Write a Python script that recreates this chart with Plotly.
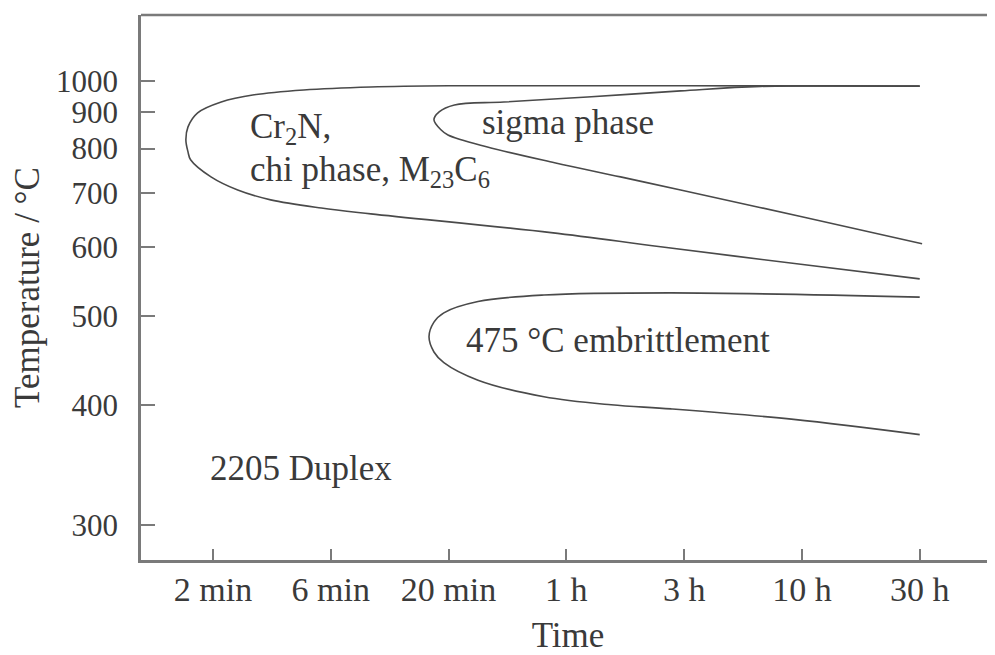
import plotly.graph_objects as go

# Time axis: equally spaced tick positions (index 0..6)
time_labels = ["2 min", "6 min", "20 min", "1 h", "3 h", "10 h", "30 h"]
time_pos = [0, 1, 2, 3, 4, 5, 6]

temp_ticks = [300, 400, 500, 600, 700, 800, 900, 1000]

# C-curve 1: Cr2N, chi phase, M23C6 (time position, temperature °C)
cr2n_t = [6.0, 4.0, 2.0, 1.34, 0.77, 0.35, 0.07, -0.13, -0.212, -0.23, -0.212, -0.19,
          -0.017, 0.21, 0.49, 0.92, 1.34, 2.87, 3.80, 4.99, 6.0]
cr2n_T = [982, 983, 983, 979, 969, 953, 930, 897, 857, 822, 792, 773,
          734, 706, 686, 670, 659, 625, 601, 573, 551]

# C-curve 2: sigma phase
sigma_t = [6.0, 4.65, 3.97, 3.18, 2.47, 2.05, 1.92, 1.876, 1.935, 1.995, 2.33, 2.90, 3.46, 3.97, 4.99, 6.02]
sigma_T = [982, 981, 966, 946, 930, 921, 900, 877, 849, 835, 804, 766, 734, 706, 654, 606]

# C-curve 3: 475 °C embrittlement
emb_t = [6.0, 3.89, 2.81, 2.25, 1.96, 1.876, 1.834, 1.876, 1.96, 2.25, 2.81, 3.38, 3.89, 4.93, 6.0]
emb_T = [525, 531, 528, 519, 504, 492, 474, 456, 444, 425, 408, 400, 396, 386, 372]


def recip(T):
    return -1000.0 / (T + 273.15)


FONT = "Liberation Serif, Times New Roman, serif"
FS = 35
TXT = "#3a3a3a"
LINE = "#4a4a4a"
AX = "#7a7a7a"

fig = go.Figure()
for xs, ts in [(cr2n_t, cr2n_T), (sigma_t, sigma_T), (emb_t, emb_T)]:
    fig.add_trace(go.Scatter(
        x=xs, y=[recip(t) for t in ts], mode="lines",
        line=dict(color=LINE, width=1.6, shape="spline", smoothing=1.0),
        hoverinfo="skip", showlegend=False))

labels = [
    (0.295, 852, "Cr<sub>2</sub>N,"),
    (0.295, 745, "chi phase, M<sub>23</sub>C<sub>6</sub>"),
    (2.265, 868, "sigma phase"),
    (2.13, 470, "475 °C embrittlement"),
    (-0.042, 343, "2205 Duplex"),
]
for x, T, txt in labels:
    fig.add_annotation(x=x, y=recip(T), text=txt, showarrow=False,
                       xanchor="left", yanchor="middle",
                       font=dict(family=FONT, size=FS, color=TXT))

fig.add_shape(type="line", xref="paper", yref="paper", x0=0, x1=1, y0=1, y1=1,
              line=dict(color=AX, width=2.5))

fig.update_layout(
    width=987, height=647,
    margin=dict(l=133, r=0, t=7, b=95),
    paper_bgcolor="white", plot_bgcolor="white",
    font=dict(family=FONT, size=FS, color=TXT),
    xaxis=dict(
        range=[-0.611, 6.639], tickmode="array", tickvals=time_pos, ticktext=time_labels,
        ticks="inside", ticklen=11, tickwidth=2, tickcolor=AX,
        tickfont=dict(family=FONT, size=34, color=TXT),
        showline=True, linecolor=AX, linewidth=2.5, showgrid=False, zeroline=False,
        ticklabelstandoff=-3,
        title=dict(text="Time", standoff=18, font=dict(family=FONT, size=FS, color=TXT)),
    ),
    yaxis=dict(
        range=[recip(276), recip(1282)], tickmode="array",
        tickvals=[recip(t) for t in temp_ticks], ticktext=[str(t) for t in temp_ticks],
        ticks="inside", ticklen=14, tickwidth=2, tickcolor=AX,
        tickfont=dict(family=FONT, size=31, color=TXT),
        showline=True, linecolor=AX, linewidth=2.5, showgrid=False, zeroline=False,
        ticklabelstandoff=14,
        title=dict(text="Temperature / °C", standoff=14, font=dict(family=FONT, size=FS, color=TXT)),
    ),
)

fig.write_html("out.html")
